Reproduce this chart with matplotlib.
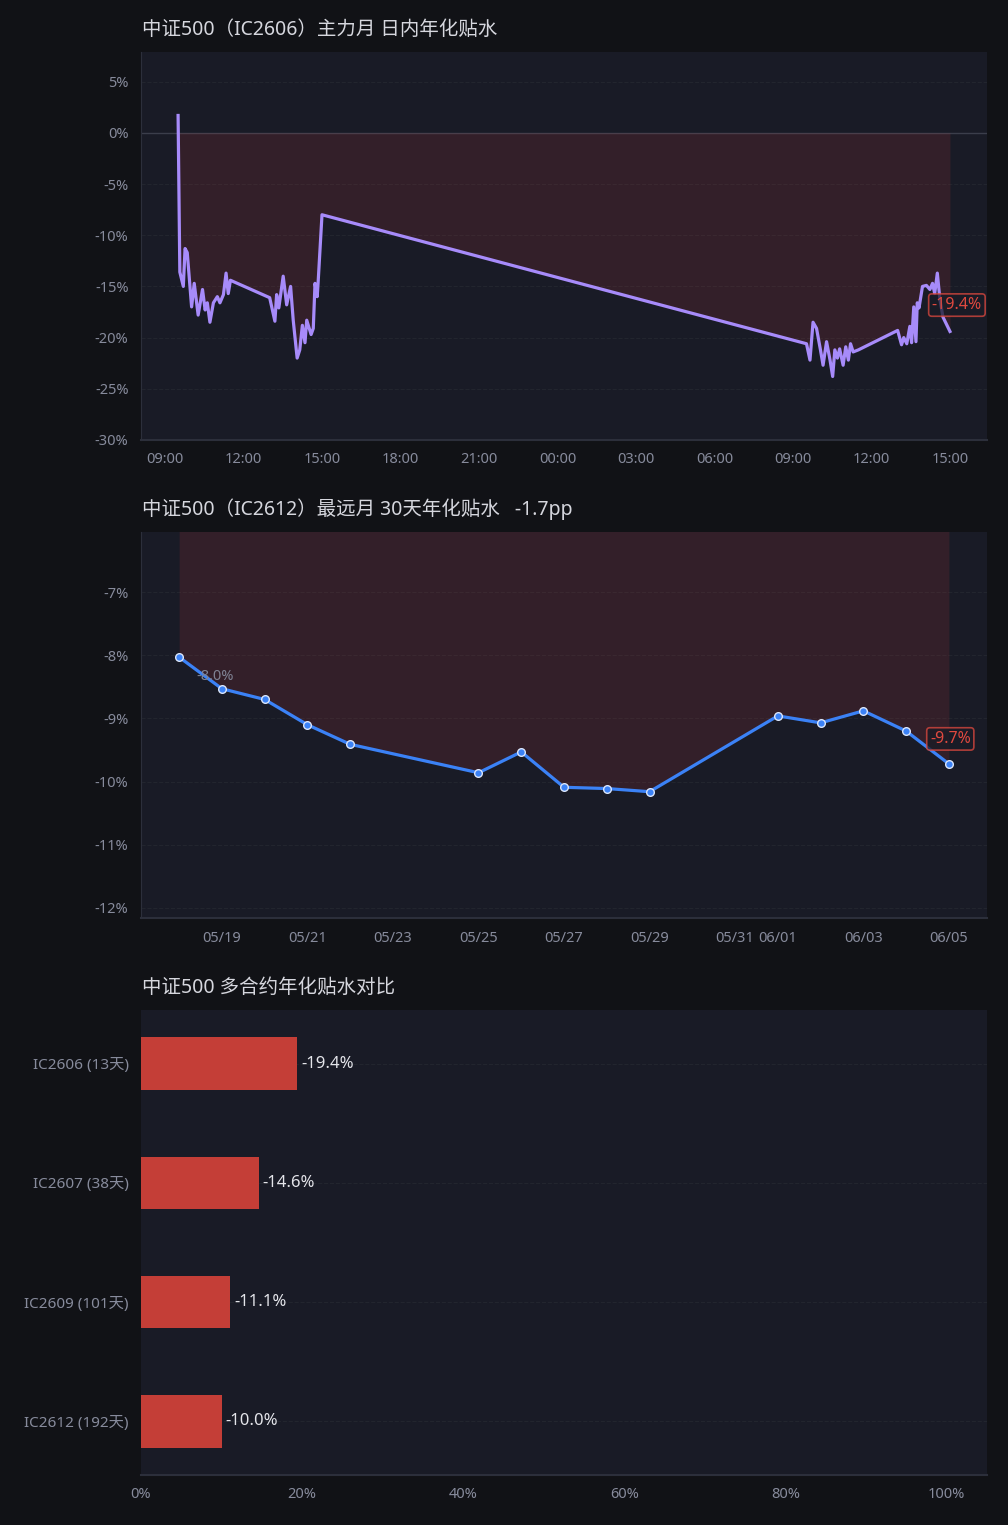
import numpy as np
import pandas as pd
import matplotlib
matplotlib.use('Agg')
import matplotlib.pyplot as plt
import matplotlib.dates as mdates
from matplotlib.ticker import FuncFormatter

plt.rcParams['font.family'] = ['Noto Sans', 'Noto Sans CJK SC', 'DejaVu Sans']

# --- data ---
day1_times = ['09:30', '09:34', '09:42', '09:46', '09:51', '10:01', '10:07', '10:16', '10:26',
              '10:32', '10:37', '10:43', '10:51', '11:00', '11:06', '11:14', '11:20', '11:25',
              '11:30', '13:00', '13:12', '13:16', '13:21', '13:31', '13:39', '13:48', '13:54',
              '14:03', '14:09', '14:15', '14:21', '14:25', '14:35', '14:40', '14:44', '14:49',
              '14:51', '15:00']
day1_basis = [1.7, -13.6, -15.0, -11.3, -11.7, -17.0, -14.7, -17.8, -15.3,
              -17.3, -16.6, -18.5, -16.6, -16.0, -16.6, -15.8, -13.7, -15.7,
              -14.4, -16.1, -18.4, -15.8, -17.1, -14.0, -16.8, -15.0, -18.3,
              -22.0, -21.2, -18.8, -20.5, -18.3, -19.7, -19.1, -14.7, -16.0,
              -14.7, -8.0]
day2_times = ['09:31', '09:39', '09:46', '09:54', '10:03', '10:09', '10:17', '10:25', '10:31',
              '10:36', '10:42', '10:47', '10:55', '11:01', '11:07', '11:12', '11:18', '11:30',
              '13:00', '13:09', '13:14', '13:21', '13:28', '13:32', '13:37', '13:42', '13:45',
              '13:49', '13:57', '14:06', '14:14', '14:20', '14:25', '14:31', '14:37', '14:44',
              '15:00']
day2_basis = [-20.6, -22.2, -18.5, -19.1, -21.2, -22.7, -20.4, -22.2, -23.8,
              -21.2, -22.0, -21.1, -22.7, -20.9, -22.2, -20.6, -21.4, -21.2,
              -19.3, -20.7, -20.0, -20.6, -18.9, -20.5, -17.0, -20.4, -16.6,
              -17.1, -15.0, -14.9, -15.3, -14.7, -15.7, -13.7, -16.3, -18.0,
              -19.4]

far_dates = ['05-18', '05-19', '05-20', '05-21', '05-22', '05-25', '05-26', '05-27',
             '05-28', '05-29', '06-01', '06-02', '06-03', '06-04', '06-05']
far_basis = [-8.03, -8.53, -8.70, -9.10, -9.41, -9.86, -9.53, -10.09,
             -10.11, -10.16, -8.96, -9.07, -8.88, -9.20, -9.72]
far_ticks = ['05-19', '05-21', '05-23', '05-25', '05-27', '05-29', '05-31', '06-01', '06-03', '06-05']

contracts = ['IC2606 (13天)', 'IC2607 (38天)', 'IC2609 (101天)', 'IC2612 (192天)']
contract_basis = [-19.4, -14.6, -11.1, -10.0]

# --- style ---
FIG_BG = '#111216'
AX_BG = '#191b26'
TXT = '#d6d7de'
TICK = '#878b9c'
GRID = '#22252e'
SPINE = '#2c2f3b'
FILL = '#ef4444'
RED = '#e0493f'

t1 = pd.to_datetime(['2026-06-04 ' + t for t in day1_times] + ['2026-06-05 ' + t for t in day2_times])
v1 = np.array(day1_basis + day2_basis)
t2 = pd.to_datetime(['2026-' + d for d in far_dates])
v2 = np.array(far_basis)

fig = plt.figure(figsize=(10.08, 15.25), dpi=100, facecolor=FIG_BG)


def style(ax, left_spine=True):
    ax.set_facecolor(AX_BG)
    for s in ['top', 'right']:
        ax.spines[s].set_visible(False)
    ax.spines['left'].set_visible(left_spine)
    ax.spines['left'].set_color(SPINE)
    ax.spines['bottom'].set_color(SPINE)
    ax.spines['bottom'].set_linewidth(1.5)
    ax.tick_params(colors=TICK, labelsize=10.5, length=0, pad=9)
    ax.set_axisbelow(True)


pct = FuncFormatter(lambda v, p: f'{v:.0f}%')

# top: intraday basis
ax1 = fig.add_axes([0.1399, 0.7115, 0.8393, 0.2544])
style(ax1)
ax1.axhline(0, color='#3b3e4b', lw=1, zorder=1)
ax1.fill_between(t1, v1, 0, color=FILL, alpha=0.12, lw=0, zorder=2)
ax1.plot(t1, v1, color='#a78bfa', lw=2.3, zorder=3)
ax1.set_ylim(-30, 7.9)
ax1.set_yticks(np.arange(-30, 6, 5))
ax1.yaxis.set_major_formatter(pct)
ax1.grid(axis='y', color=GRID, ls='--', lw=0.8)
ax1.set_xlim(pd.Timestamp('2026-06-04 08:05'), pd.Timestamp('2026-06-05 16:25'))
ax1.xaxis.set_major_locator(mdates.HourLocator(byhour=range(0, 24, 3)))
ax1.xaxis.set_major_formatter(mdates.DateFormatter('%H:%M'))
ax1.annotate(f'{v1[-1]:.1f}%', (t1[-1], v1[-1]), xytext=(5, 19), textcoords='offset points',
             ha='center', va='center', color=RED, fontsize=11.5, zorder=5,
             bbox=dict(boxstyle='round,pad=0.2', fc=AX_BG, ec=RED, lw=1.2, alpha=0.75))
fig.text(142 / 1008, 1 - 30 / 1525, '中证500（IC2606）主力月 日内年化贴水',
         color=TXT, fontsize=14, ha='left', va='center')

# middle: far month 30-day basis
ax2 = fig.add_axes([0.1399, 0.3980, 0.8393, 0.2531])
style(ax2)
ax2.fill_between(t2, v2, 0, color=FILL, alpha=0.12, lw=0, zorder=2)
ax2.plot(t2, v2, color='#3b82f6', lw=2.3, marker='o', ms=5.5, mfc='#3b82f6',
         mec='#dbe6fb', mew=1, zorder=3)
ax2.set_ylim(-12.16, -6.05)
ax2.set_yticks(np.arange(-12, -6.5, 1))
ax2.yaxis.set_major_formatter(pct)
ax2.grid(axis='y', color=GRID, ls='--', lw=0.8)
ax2.set_xlim(t2[0] - pd.Timedelta(hours=21.4), t2[-1] + pd.Timedelta(hours=21.4))
ax2.set_xticks(pd.to_datetime(['2026-' + d for d in far_ticks]))
ax2.xaxis.set_major_formatter(mdates.DateFormatter('%m/%d'))
ax2.annotate(f'{v2[0]:.1f}%', (t2[0], v2[0]), xytext=(26, -14), textcoords='offset points',
             ha='center', va='center', color='#7f8394', fontsize=10.5, zorder=5)
ax2.annotate(f'{v2[-1]:.1f}%', (t2[-1], v2[-1]), xytext=(1, 18), textcoords='offset points',
             ha='center', va='center', color=RED, fontsize=11.5, zorder=5,
             bbox=dict(boxstyle='round,pad=0.2', fc=AX_BG, ec=RED, lw=1.2, alpha=0.75))
change = v2[-1] - v2[0]
fig.text(142 / 1008, 1 - 509 / 1525, f'中证500（IC2612）最远月 30天年化贴水   {change:.1f}pp',
         color=TXT, fontsize=14, ha='left', va='center')

# bottom: contract comparison
ax3 = fig.add_axes([0.1399, 0.0328, 0.8393, 0.3049])
style(ax3, left_spine=False)
y = np.arange(len(contracts))
ax3.barh(y, np.abs(contract_basis), height=0.44, color='#c43e37', zorder=3)
for yi, b in zip(y, contract_basis):
    ax3.text(abs(b) + 0.5, yi, f'{b:.1f}%', color='#e4e5ea', fontsize=12, va='center', ha='left')
ax3.set_yticks(y)
ax3.set_yticklabels(contracts, fontsize=11)
ax3.set_ylim(3.45, -0.45)
ax3.set_xlim(0, 105)
ax3.set_xticks(np.arange(0, 101, 20))
ax3.xaxis.set_major_formatter(pct)
ax3.grid(axis='y', color=GRID, ls='--', lw=0.8)
fig.text(142 / 1008, 1 - 988 / 1525, '中证500 多合约年化贴水对比',
         color=TXT, fontsize=14, ha='left', va='center')

fig.savefig('out.png', dpi=100, facecolor=FIG_BG)
